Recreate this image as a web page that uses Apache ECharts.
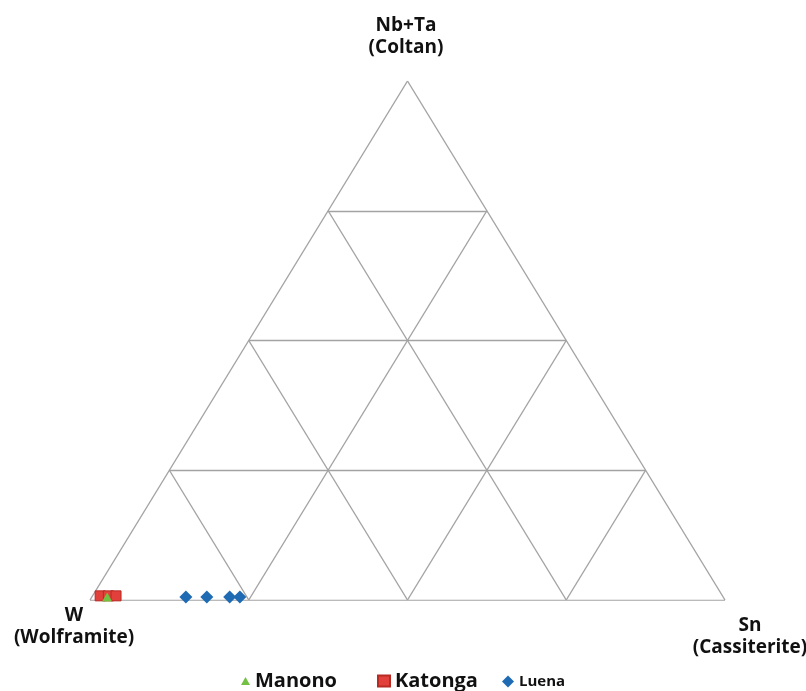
<!DOCTYPE html>
<html>
<head>
<meta charset="utf-8">
<script src="https://cdn.jsdelivr.net/npm/echarts@6/dist/echarts.min.js"></script>
<style>
html, body { margin: 0; padding: 0; background: #ffffff; }
#chart { width: 806px; height: 691px; }
</style>
</head>
<body>
<div id="chart"></div>
<script>
// Ternary compositions (fractions): Sn and Nb+Ta given, W = 1 - Sn - (Nb+Ta)
const manonoSn = [0.024];
const manonoNbTa = [0.006];

const katongaSn = [0.012, 0.025, 0.037];
const katongaNbTa = [0.008, 0.008, 0.008];

const luenaSn = [0.148, 0.181, 0.217, 0.233];
const luenaNbTa = [0.006, 0.006, 0.006, 0.006];

// Grid lines drawn at these fractions of every component
const gridLevels = [0.25, 0.5, 0.75];

const vertexLabels = ['Nb+Ta\n(Coltan)', 'W\n(Wolframite)', 'Sn\n(Cassiterite)'];
const seriesNames = ['Manono', 'Katonga', 'Luena'];

// Ternary (Sn, Nb+Ta) -> cartesian, with W at the left corner, Sn at the right, Nb+Ta on top
function toXY(sn, nb) {
  return [sn + nb / 2, nb];
}

function points(snArr, nbArr) {
  return snArr.map((s, i) => toXY(s, nbArr[i]));
}

// Outline and interior grid segments
const segments = [];
segments.push({ coords: [toXY(0, 0), toXY(1, 0)] });
segments.push({ coords: [toXY(1, 0), toXY(0, 1)] });
segments.push({ coords: [toXY(0, 1), toXY(0, 0)] });
gridLevels.forEach(t => {
  segments.push({ coords: [toXY(0, t), toXY(1 - t, t)] });     // constant Nb+Ta
  segments.push({ coords: [toXY(t, 0), toXY(t, 1 - t)] });     // constant Sn
  segments.push({ coords: [toXY(1 - t, 0), toXY(0, 1 - t)] }); // constant W
});

const labelFont = 'bold 19px "Open Sans", "DejaVu Sans", sans-serif';

const chart = echarts.init(document.getElementById('chart'), null, { renderer: 'canvas' });

chart.setOption({
  backgroundColor: '#ffffff',
  animation: false,
  grid: { left: 90, right: 81, top: 81, bottom: 91 },
  xAxis: { type: 'value', min: 0, max: 1, show: false },
  yAxis: { type: 'value', min: 0, max: 1, show: false },
  legend: [
    {
      data: [{ name: seriesNames[0], icon: 'triangle' }],
      left: 241, top: 671, padding: 0,
      itemWidth: 9, itemHeight: 8, itemGap: 0,
      textStyle: { fontFamily: 'Open Sans', fontWeight: 'bold', fontSize: 20, color: '#111' }
    },
    {
      data: [{ name: seriesNames[1], icon: 'rect' }],
      left: 377, top: 671, padding: 0,
      itemWidth: 12, itemHeight: 11, itemGap: 0,
      textStyle: { fontFamily: 'Open Sans', fontWeight: 'bold', fontSize: 20, color: '#111' }
    },
    {
      data: [{ name: seriesNames[2], icon: 'diamond' }],
      left: 502, top: 674, padding: 0,
      itemWidth: 12, itemHeight: 12, itemGap: 0,
      textStyle: { fontFamily: 'Open Sans', fontWeight: 'bold', fontSize: 15, color: '#111' }
    }
  ],
  graphic: [
    {
      type: 'text', z: 10,
      style: { text: vertexLabels[0], font: labelFont, textAlign: 'center', lineHeight: 22, fill: '#111' },
      position: [406, 15]
    },
    {
      type: 'text', z: 10,
      style: { text: vertexLabels[1], font: labelFont, textAlign: 'center', lineHeight: 22, fill: '#111' },
      position: [74, 605]
    },
    {
      type: 'text', z: 10,
      style: { text: vertexLabels[2], font: labelFont, textAlign: 'center', lineHeight: 22, fill: '#111' },
      position: [750, 615]
    }
  ],
  series: [
    {
      type: 'lines',
      coordinateSystem: 'cartesian2d',
      silent: true,
      z: 1,
      lineStyle: { color: '#a3a3a3', width: 1.4, opacity: 1 },
      data: segments
    },
    {
      name: seriesNames[2],
      type: 'scatter',
      symbol: 'diamond',
      symbolSize: 13,
      z: 3,
      itemStyle: { color: '#1f6bb3', opacity: 1 },
      data: points(luenaSn, luenaNbTa)
    },
    {
      name: seriesNames[1],
      type: 'scatter',
      symbol: 'rect',
      symbolSize: [10, 10],
      z: 3,
      itemStyle: { color: '#e2403a', borderColor: '#b82a24', borderWidth: 1, opacity: 1 },
      data: points(katongaSn, katongaNbTa)
    },
    {
      name: seriesNames[0],
      type: 'scatter',
      symbol: 'triangle',
      symbolSize: [10, 9],
      z: 4,
      itemStyle: { color: '#74c043', opacity: 1 },
      data: points(manonoSn, manonoNbTa)
    }
  ]
});
</script>
</body>
</html>
